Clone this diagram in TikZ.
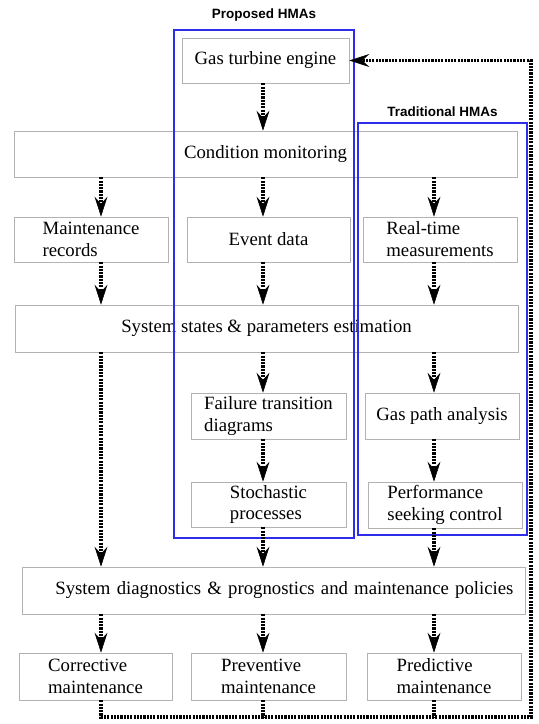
\documentclass[tikz,border=0pt]{standalone}
\usepackage{fontspec}
\setmainfont{Liberation Serif}
\newfontfamily\hmafont{Liberation Sans}
\usetikzlibrary{arrows.meta,shadows,positioning}
\definecolor{hmablue}{RGB}{45,45,235}
\newdimen\pxu \pxu=0.03cm

\begin{document}
\begin{tikzpicture}[x=\pxu,y=-\pxu,
    sz/.style 2 args={minimum width=#1\pxu,minimum height=#2\pxu},
    box/.style={draw=gray!60,fill=white,line width=.6pt,align=left,inner sep=0pt,
      font=\fontsize{16}{18.7}\selectfont,
      drop shadow={shadow xshift=1.2pt,shadow yshift=-1.2pt,opacity=.2}},
    hma/.style={draw=hmablue,line width=1pt,inner sep=0pt},
    hmatitle/.style={inner sep=0pt,font=\hmafont\bfseries\fontsize{11.5}{13}\selectfont},
    dashline/.style={line width=3.3pt,dash pattern=on 1.8pt off 1pt},
    flow/.style={dashline,-{Stealth[length=17pt,width=11pt,inset=6pt,line width=.5pt]}}]
  \useasboundingbox (0,0) rectangle (539,724);
  \coordinate (c1) at (101,0);
  \coordinate (c2) at (263,0);
  \coordinate (c3) at (434,0);
  \coordinate (back) at (531,717);

  \node[box,sz={167}{45}] (gas) at (265.5,60.5) {Gas turbine engine};
  \node[box,sz={503}{46}] (cond) at (265.5,154) {Condition monitoring};
  \node[box,sz={154}{45}] (records) at (91,239.5) {Maintenance\\records};
  \node[box,sz={163}{45}] (event) at (268.5,239.5) {Event data};
  \node[box,sz={154}{45}] (realtime) at (440,239.5) {Real-time\\measurements};
  \node[box,sz={503}{47}] (states) at (266.5,328.5) {System states \& parameters estimation};
  \node[box,sz={155}{46}] (failure) at (268.5,416) {Failure transition\\diagrams};
  \node[box,sz={154}{46}] (gaspath) at (442,416) {Gas path analysis};
  \node[box,sz={155}{45}] (stoch) at (268.5,504.5) {Stochastic\\processes};
  \node[box,sz={154}{46}] (perf) at (445,505) {Performance\\seeking control};
  \node[box,sz={503}{47},text width=480\pxu,align=right] (diag) at (273.5,590.5)
    {System diagnostics \& prognostics and maintenance policies};
  \node[box,sz={153}{47}] (corr) at (95.5,676.5) {Corrective\\maintenance};
  \node[box,sz={155}{47}] (prev) at (268.5,676.5) {Preventive\\maintenance};
  \node[box,sz={154}{47}] (pred) at (444,676.5) {Predictive\\maintenance};

  \node[hma,sz={180}{508}] (proposed) at (264,284) {};
  \node[hma,sz={169}{412}] (traditional) at (442.5,329) {};
  \node[hmatitle,above=8\pxu of proposed] (proposedlabel) {Proposed HMAs};
  \node[hmatitle,above=6\pxu of traditional] (traditionallabel) {Traditional HMAs};

  \draw[flow] (gas.south -| c2) -- (cond.north -| c2);
  \draw[flow] (cond.south -| c1) -- (records.north -| c1);
  \draw[flow] (cond.south -| c2) -- (event.north -| c2);
  \draw[flow] (cond.south -| c3) -- (realtime.north -| c3);
  \draw[flow] (records.south -| c1) -- (states.north -| c1);
  \draw[flow] (event.south -| c2) -- (states.north -| c2);
  \draw[flow] (realtime.south -| c3) -- (states.north -| c3);
  \draw[flow] (states.south -| c1) -- (diag.north -| c1);
  \draw[flow] (states.south -| c2) -- (failure.north -| c2);
  \draw[flow] (states.south -| c3) -- (gaspath.north -| c3);
  \draw[flow] (failure.south -| c2) -- (stoch.north -| c2);
  \draw[flow] (gaspath.south -| c3) -- (perf.north -| c3);
  \draw[flow] (stoch.south -| c2) -- (diag.north -| c2);
  \draw[flow] (perf.south -| c3) -- (diag.north -| c3);
  \draw[flow] (diag.south -| c1) -- (corr.north -| c1);
  \draw[flow] (diag.south -| c2) -- (prev.north -| c2);
  \draw[flow] (diag.south -| c3) -- (pred.north -| c3);
  \draw[flow] (corr.south -| c1) |- (back) |- (gas.east);
  \draw[dashline] (prev.south -| c2) -- (back -| c2);
  \draw[dashline] (pred.south -| c3) -- (back -| c3);
\end{tikzpicture}
\end{document}
